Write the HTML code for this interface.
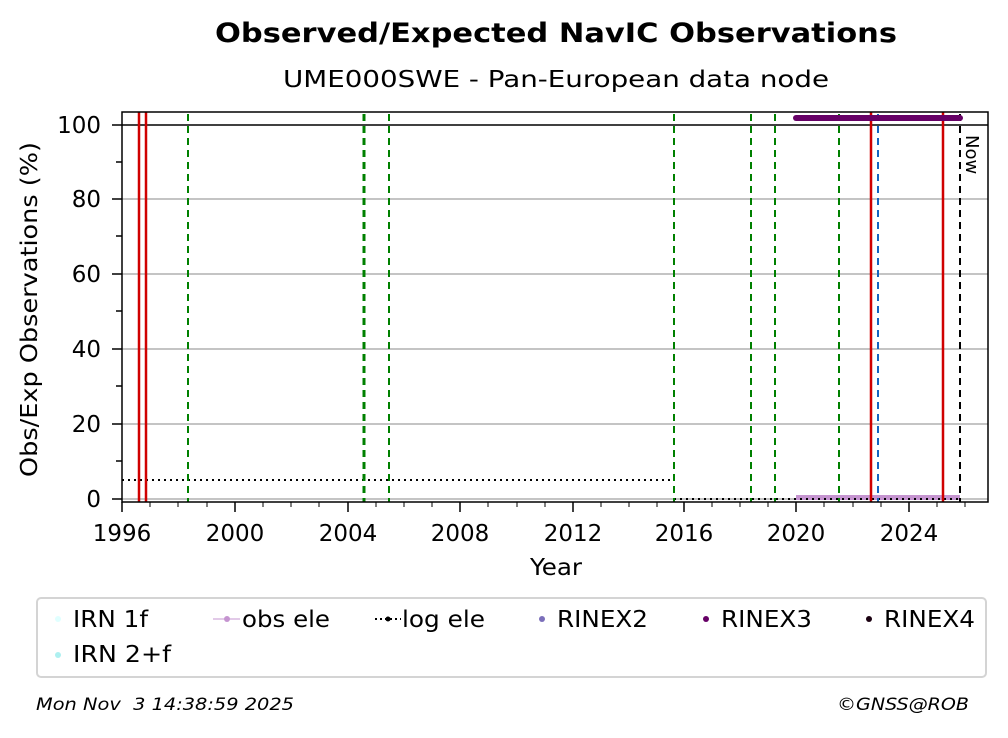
<!DOCTYPE html>
<html><head><meta charset="utf-8"><style>
body{margin:0;background:#fff;width:1008px;height:734px;overflow:hidden;font-family:"DejaVu Sans","Liberation Sans",sans-serif}
</style></head><body>
<svg width="1008" height="734" xmlns="http://www.w3.org/2000/svg" font-family="DejaVu Sans, Liberation Sans, sans-serif">
<text x="215" y="42" font-size="27" font-weight="bold" textLength="682" lengthAdjust="spacingAndGlyphs">Observed/Expected NavIC Observations</text>
<text x="283" y="87" font-size="23" textLength="546" lengthAdjust="spacingAndGlyphs">UME000SWE - Pan-European data node</text>
<g stroke="#b0b0b0" stroke-width="1.5">
<line x1="122" x2="988" y1="424" y2="424"/><line x1="122" x2="988" y1="349" y2="349"/>
<line x1="122" x2="988" y1="274" y2="274"/><line x1="122" x2="988" y1="199" y2="199"/>
<line x1="122" x2="988" y1="499" y2="499"/>
</g>
<line x1="122" x2="988" y1="125" y2="125" stroke="#000" stroke-width="1.5"/>
<rect x="796" y="495" width="164" height="5" fill="#c594d0"/>
<g stroke="#000" stroke-width="2" stroke-dasharray="2,4" fill="none">
<polyline points="122,480 674,480"/><polyline points="674,499 960,499"/>
</g>
<g stroke-width="2" stroke-dasharray="7,5" fill="none">
<g stroke="#008000"><line x1="188" x2="188" y1="114" y2="502"/><line x1="364" x2="364" y1="114" y2="502" stroke-width="3"/><line x1="389" x2="389" y1="114" y2="502"/><line x1="751" x2="751" y1="114" y2="502"/><line x1="775" x2="775" y1="114" y2="502"/><line x1="839" x2="839" y1="114" y2="502"/></g>
<line x1="674" x2="674" y1="114" y2="502" stroke="#008000"/>
<line x1="878" x2="878" y1="114" y2="502" stroke="#1565c0"/>
<line x1="960" x2="960" y1="114" y2="502" stroke="#000"/>
</g>
<g stroke="#d00000" stroke-width="2.5"><line x1="139" x2="139" y1="112" y2="502"/><line x1="146" x2="146" y1="112" y2="502"/><line x1="871" x2="871" y1="112" y2="502"/><line x1="943" x2="943" y1="112" y2="502"/></g>
<line x1="796" x2="960" y1="118" y2="118" stroke="#660066" stroke-width="6" stroke-linecap="round"/>
<text x="966" y="135" font-size="18" transform="rotate(90 966 135)">Now</text>
<rect x="122" y="112" width="866" height="390" fill="none" stroke="#000" stroke-width="1.5"/>
<g stroke="#000" stroke-width="1.5">
<line x1="112" x2="122" y1="499" y2="499"/><line x1="112" x2="122" y1="424" y2="424"/><line x1="112" x2="122" y1="349" y2="349"/><line x1="112" x2="122" y1="274" y2="274"/><line x1="112" x2="122" y1="199" y2="199"/><line x1="112" x2="122" y1="125" y2="125"/>
<line x1="116" x2="122" y1="461" y2="461"/><line x1="116" x2="122" y1="386" y2="386"/><line x1="116" x2="122" y1="311" y2="311"/><line x1="116" x2="122" y1="236" y2="236"/><line x1="116" x2="122" y1="162" y2="162"/>
<line x1="122" x2="122" y1="502" y2="512"/><line x1="235" x2="235" y1="502" y2="512"/><line x1="348" x2="348" y1="502" y2="512"/><line x1="460" x2="460" y1="502" y2="512"/><line x1="573" x2="573" y1="502" y2="512"/><line x1="684" x2="684" y1="502" y2="512"/><line x1="796" x2="796" y1="502" y2="512"/><line x1="909" x2="909" y1="502" y2="512"/>
</g>
<g stroke="#000" stroke-width="1">
<path d="M150 502v5M178 502v5M207 502v5M263 502v5M291 502v5M319 502v5M376 502v5M404 502v5M432 502v5M488 502v5M517 502v5M545 502v5M601 502v5M629 502v5M657 502v5M712 502v5M740 502v5M768 502v5M824 502v5M853 502v5M881 502v5M937 502v5M965 502v5"/>
</g>
<g font-size="23" text-anchor="end">
<text x="101" y="507">0</text><text x="101" y="432">20</text><text x="101" y="357">40</text><text x="101" y="282">60</text><text x="101" y="207">80</text><text x="101" y="133">100</text>
</g>
<g font-size="23" text-anchor="middle">
<text x="122" y="541">1996</text><text x="235" y="541">2000</text><text x="348" y="541">2004</text><text x="460" y="541">2008</text><text x="573" y="541">2012</text><text x="684" y="541">2016</text><text x="796" y="541">2020</text><text x="909" y="541">2024</text>
</g>
<text x="530" y="575" font-size="23" textLength="52" lengthAdjust="spacingAndGlyphs">Year</text>
<text x="0" y="0" font-size="23" transform="translate(37,477) rotate(-90)" textLength="335" lengthAdjust="spacingAndGlyphs">Obs/Exp Observations (%)</text>
<rect x="37" y="598" width="949" height="79" rx="4" fill="#fff" stroke="#d4d4d4" stroke-width="2"/>
<g font-size="23">
<circle cx="58" cy="619" r="3" fill="#e0ffff"/><text x="73" y="627" textLength="75" lengthAdjust="spacingAndGlyphs">IRN 1f</text>
<circle cx="58" cy="655" r="3" fill="#aef0f0"/><text x="73" y="662" textLength="98" lengthAdjust="spacingAndGlyphs">IRN 2+f</text>
<line x1="213" x2="240" y1="619" y2="619" stroke="#c594d0"/><circle cx="227" cy="619" r="3" fill="#c594d0"/><text x="242" y="627" textLength="88" lengthAdjust="spacingAndGlyphs">obs ele</text>
<line x1="375" x2="401" y1="619" y2="619" stroke="#000" stroke-width="2" stroke-dasharray="2,3"/><circle cx="388" cy="619" r="2.5" fill="#000"/><text x="402" y="627" textLength="83" lengthAdjust="spacingAndGlyphs">log ele</text>
<circle cx="542" cy="619" r="3" fill="#7b6fba"/><text x="557" y="627" textLength="91" lengthAdjust="spacingAndGlyphs">RINEX2</text>
<circle cx="706" cy="619" r="3" fill="#660066"/><text x="721" y="627" textLength="91" lengthAdjust="spacingAndGlyphs">RINEX3</text>
<circle cx="869" cy="619" r="3" fill="#1a0010"/><text x="884" y="627" textLength="91" lengthAdjust="spacingAndGlyphs">RINEX4</text>
</g>
<text x="36" y="710" font-size="17" font-style="italic" textLength="258" lengthAdjust="spacingAndGlyphs" xml:space="preserve">Mon Nov  3 14:38:59 2025</text>
<text x="837" y="710" font-size="17" font-style="italic" textLength="132" lengthAdjust="spacingAndGlyphs">©GNSS@ROB</text>
</svg>
</body></html>
